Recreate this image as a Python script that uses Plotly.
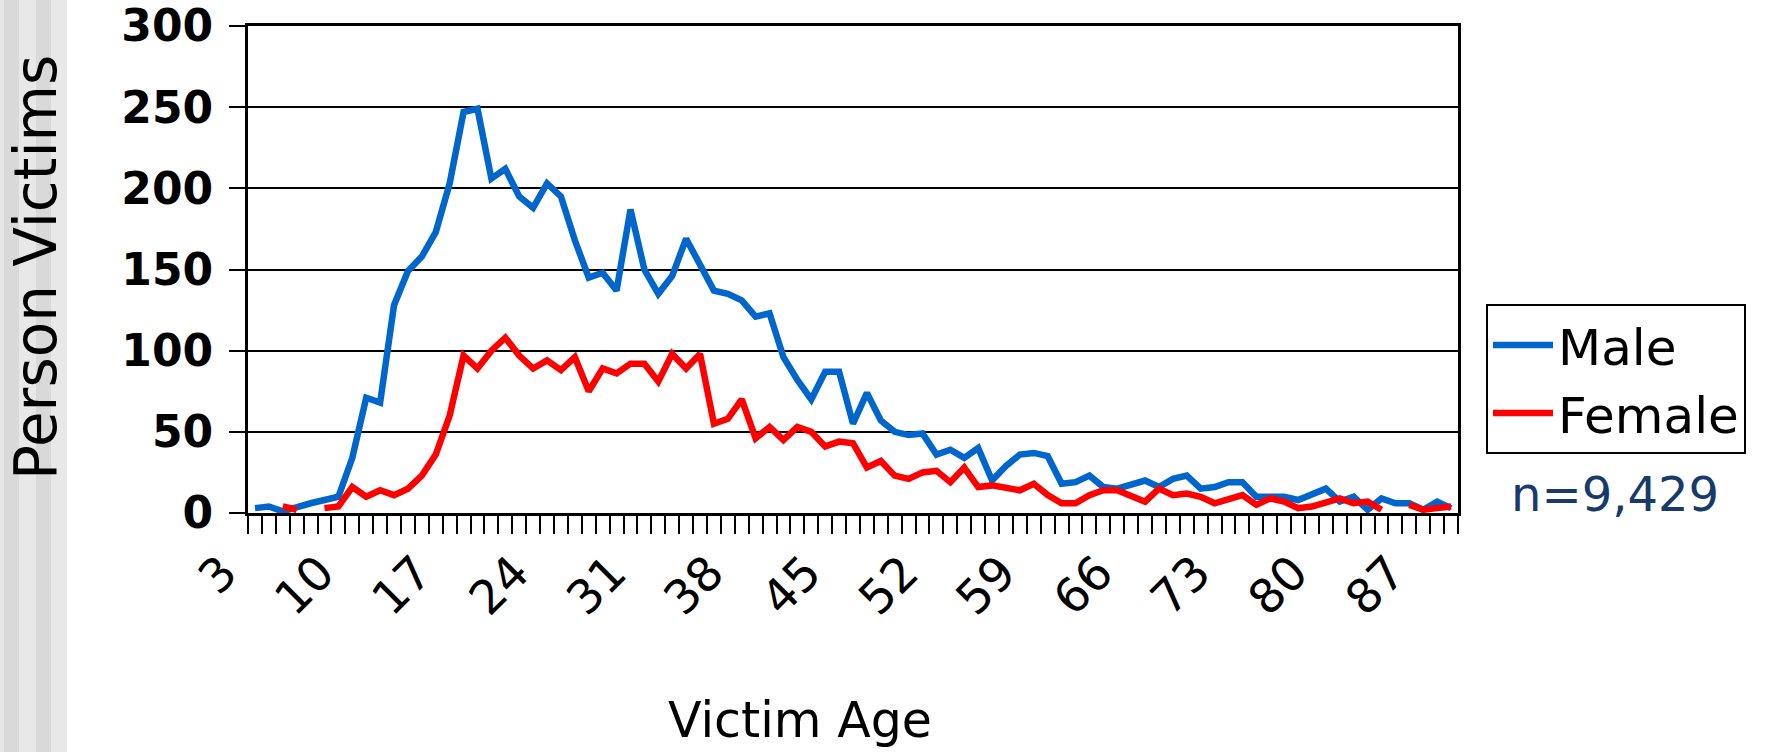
import plotly.graph_objects as go

# ---- data ----
ages = list(range(3, 90))  # victim age categories (3..89)

male = [3, 4, 1, 4, 6, 8, 10, 34, 71, 68, 128, 149, 158, 173, 203,
        247, 249, 206, 212, 195, 188, 203, 195, 168, 145, 148, 137, 187, 150,
        135, 146, 169, 153, 137, 135, 131, 121, 123, 96, 82, 70, 87, 87, 55,
        74, 57, 50, 48, 49, 36, 39, 34, 40, 20, 29, 36, 37, 35,
        18, 19, 23, 16, 15, 17, 20, 16, 21, 23, 15, 16, 19, 19,
        10, 10, 10, 8, 12, 15, 7, 10, 2, 9, 6, 6, 2, 7, 3]

female = [None, None, 4, 2, None, 3, 4, 16, 10, 14, 11, 15, 23, 36, 60,
          97, 89, 100, 108, 97, 89, 94, 88, 96, 75, 89, 86, 92, 92,
          81, 98, 89, 98, 55, 58, 70, 46, 53, 45, 53, 50, 41, 44, 43,
          28, 32, 23, 21, 25, 26, 19, 28, 16, 17, 15, 14, 18, 11,
          6, 6, 11, 14, 14, 11, 7, 15, 11, 12, 10, 6, 9, 11,
          5, 9, 7, 3, 4, 7, 9, 6, 7, 2, None, 5, 2, 3, 4]

tick_ages = [3, 10, 17, 24, 31, 38, 45, 52, 59, 66, 73, 80, 87]
tick_labels = ["3", "10", "17", "24", "31", "38", "45", "52", "59", "66", "73", "80", "87"]
y_ticks = [0, 50, 100, 150, 200, 250, 300]

series_names = ["Male", "Female"]
series_colors = ["#0066CC", "#FF0000"]
note_text = "n=9,429"

FONT = "DejaVu Sans"

fig = go.Figure()
for name, vals, col in zip(series_names, [male, female], series_colors):
    fig.add_trace(go.Scatter(
        x=ages, y=vals, mode="lines", name=name,
        line=dict(color=col, width=6.5), connectgaps=False,
    ))

# plot-area geometry (pixels)
L, R, T, B = 248, 1458, 26, 513
W, H = 1772, 752
pw, ph = R - L, B - T

def px_x(px):
    return (px - L) / pw

def px_y(py):
    return (B - py) / ph

# grey stripes on the left edge
stripes = [(0, 4, "#e6e6e6"), (4, 19, "#d9d9d9"), (19, 36, "#e8e8e8"),
           (36, 51, "#d9d9d9"), (51, 67, "#e8e8e8")]
shapes = []
for x0, x1, c in stripes:
    shapes.append(dict(type="rect", xref="paper", yref="paper",
                       x0=px_x(x0), x1=px_x(x1), y0=px_y(H), y1=px_y(0),
                       fillcolor=c, line=dict(width=0), layer="below"))

fig.update_layout(
    width=W, height=H,
    margin=dict(l=L, r=W - R, t=T, b=H - B, autoexpand=False),
    paper_bgcolor="white", plot_bgcolor="white",
    font=dict(family=FONT, color="black"),
    shapes=shapes,
    showlegend=True,
    legend=dict(
        x=px_x(1486), y=px_y(304), xanchor="left", yanchor="top",
        bordercolor="black", borderwidth=2, bgcolor="white",
        font=dict(family=FONT, size=50, color="black"),
        tracegroupgap=0, itemwidth=60,
    ),
    xaxis=dict(
        type="linear", range=[2.5, 89.5],
        tickmode="array", tickvals=tick_ages, ticktext=tick_labels,
        tickangle=-45, tickfont=dict(family=FONT, size=47, color="black"),
        ticks="outside", ticklen=10, tickcolor="rgba(0,0,0,0)",
        ticklabelshift=-32, ticklabeloverflow="allow",
        showgrid=False, zeroline=False,
        showline=True, linecolor="black", linewidth=3, mirror=True,
        minor=dict(tickmode="linear", tick0=2.5, dtick=1, ticks="outside",
                   ticklen=18, tickwidth=2, tickcolor="black", showgrid=False),
    ),
    yaxis=dict(
        range=[0, 300], tickmode="array", tickvals=y_ticks,
        tickfont=dict(family=FONT, size=44, color="black", weight="bold"),
        ticks="outside", ticklen=16, tickwidth=2, tickcolor="black",
        ticklabelstandoff=7, ticklabeloverflow="allow",
        showgrid=True, gridcolor="black", gridwidth=2,
        zeroline=False,
        showline=True, linecolor="black", linewidth=3, mirror=True,
    ),
    annotations=[
        dict(text="Person Victims", xref="paper", yref="paper",
             x=px_x(36), y=px_y(268), xanchor="center", yanchor="middle",
             textangle=-90, showarrow=False,
             font=dict(family=FONT, size=58, color="black")),
        dict(text="Victim Age", xref="paper", yref="paper",
             x=px_x(800), y=px_y(720), xanchor="center", yanchor="middle",
             showarrow=False,
             font=dict(family=FONT, size=49, color="black")),
        dict(text=note_text, xref="paper", yref="paper",
             x=px_x(1615), y=px_y(494), xanchor="center", yanchor="middle",
             showarrow=False,
             font=dict(family=FONT, size=48, color="#173A6B")),
    ],
)

fig.write_html("out.html",
               config={"displayModeBar": False},
               post_script="document.body.style.margin='0px';document.body.style.overflow='hidden';")
